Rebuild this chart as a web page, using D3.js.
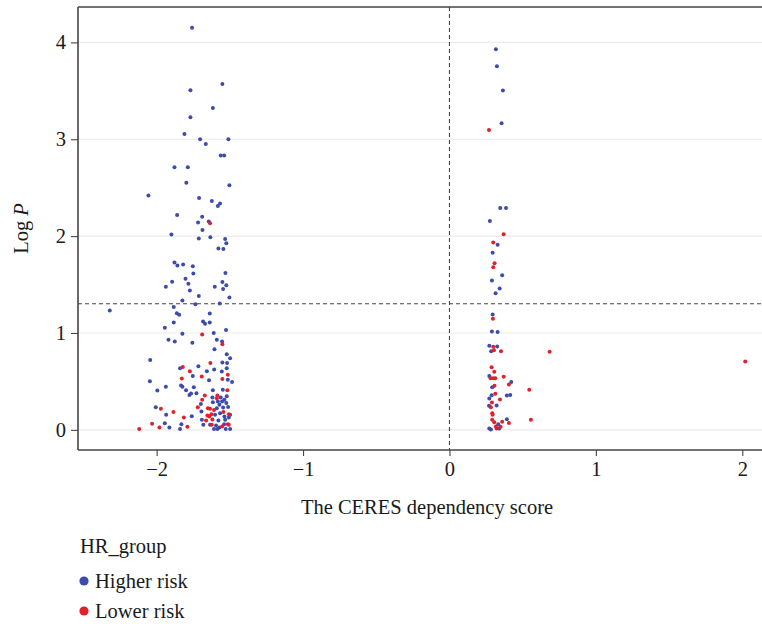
<!DOCTYPE html>
<html>
<head>
<meta charset="utf-8">
<script src="https://cdn.jsdelivr.net/npm/d3@7"></script>
<style>
  body { margin: 0; background: #fff; }
  svg text { font-family: "Liberation Serif", "DejaVu Serif", serif; fill: #1a1a1a; }
</style>
</head>
<body>
<div id="chart"></div>
<script>
// group names and colours
var groups = ["Higher risk", "Lower risk"];
var groupColors = ["#3D4BAE", "#E3202A"];

// higher risk points: [CERES score, log P]
var higherRisk = [
  [-1.758,4.152],[-1.551,3.571],[-1.769,3.506],[-1.616,3.323],[-1.769,3.227],[-1.810,3.055],
  [-1.703,3.0],[-1.510,3.0],[-1.664,2.951],[-1.562,2.831],[-1.539,2.831],
  [-1.878,2.711],[-1.787,2.711],[-1.797,2.552],[-1.503,2.525],[-2.056,2.418],[-1.710,2.394],
  [-1.623,2.363],[-1.567,2.336],[-1.582,2.312],[-1.860,2.219],[-1.689,2.201],[-1.717,2.140],
  [-1.644,2.150],[-1.687,2.064],[-1.899,2.016],[-1.712,1.974],[-1.633,1.989],[-1.532,1.971],
  [-1.524,1.927],[-1.578,1.871],[-1.544,1.868],[-1.878,1.727],[-1.858,1.696],[-1.819,1.706],
  [-1.753,1.689],[-1.530,1.620],[-1.749,1.613],
  [-1.803,1.561],[-1.894,1.530],[-1.783,1.507],[-1.937,1.476],[-1.551,1.527],[-1.603,1.476],
  [-1.524,1.493],[-1.546,1.455],[-1.773,1.438],[-1.712,1.383],[-1.503,1.365],[-1.824,1.334],
  [-1.883,1.269],[-1.735,1.297],[-1.569,1.303],
  [-2.320,1.231],[-1.862,1.204],[-1.846,1.187],[-1.637,1.200],[-1.883,1.107],[-1.683,1.118],
  [-1.669,1.094],[-1.637,1.107],[-1.944,1.053],[-1.526,1.032],[-1.824,0.991],[-1.610,1.001],
  [-1.919,0.929],[-1.876,0.912],[-1.756,0.898],[-1.589,0.929],[-1.553,0.912],[-1.605,0.833],
  [-1.521,0.781],[-1.498,0.740],[-2.044,0.722],
  [-2.046,0.502],[-1.995,0.406],[-1.937,0.444],[-1.840,0.636],[-1.715,0.657],[-1.753,0.557],
  [-1.657,0.605],[-1.607,0.622],[-1.551,0.695],[-1.555,0.602],[-1.642,0.513],[-1.514,0.516],
  [-1.485,0.495],[-1.833,0.457],[-1.824,0.444],[-1.799,0.410],[-1.746,0.441],[-1.776,0.361],
  [-1.765,0.375],[-1.728,0.379],[-1.519,0.691],[-1.521,0.636],
  [-2.006,0.234],[-1.935,0.155],[-1.760,0.141],[-1.694,0.189],[-1.698,0.268],[-1.619,0.333],
  [-1.616,0.410],[-1.548,0.413],[-1.944,0.069],[-1.913,0.024],[-1.831,0.059],[-1.840,0.010],
  [-1.521,0.348],[-1.537,0.310],[-1.553,0.292],[-1.524,0.276],[-1.512,0.237],[-1.546,0.230],
  [-1.571,0.258],[-1.589,0.224],[-1.567,0.172],[-1.537,0.137],[-1.507,0.127],[-1.498,0.155],
  [-1.616,0.286],[-1.691,0.103],[-1.681,0.052],[-1.594,0.044],[-1.608,0.010],[-1.585,0.010],
  [-1.539,0.059],[-1.528,0.010],[-1.498,0.010],[-1.571,0.024],[-1.635,0.052],[-1.578,0.096],
  [-1.532,0.103],[-1.601,0.155],[-1.582,0.292],[-1.562,0.333],
  [0.317,3.929],[0.324,3.753],[0.365,3.502],[0.356,3.165],[0.347,2.291],[0.386,2.291],
  [0.276,2.157],[0.329,1.912],[0.295,1.827],[0.360,1.596],[0.290,1.541],[0.343,1.458],
  [0.315,1.411],[0.295,1.190],[0.290,1.015],[0.329,1.011],[0.272,0.867],[0.326,0.860],
  [0.285,0.812],[0.272,0.557],[0.422,0.495],[0.292,0.441],[0.288,0.358],[0.392,0.354],
  [0.415,0.361],[0.272,0.323],[0.270,0.248],[0.322,0.251],[0.392,0.110],[0.333,0.059],
  [0.340,0.013],[0.272,0.013],[0.283,0.003]
];

// lower risk points: [CERES score, log P]
var lowerRisk = [
  [-1.635,2.133],[-1.689,0.984],[-1.551,0.884],
  [-1.821,0.650],[-1.773,0.605],[-1.828,0.529],[-1.692,0.550],[-1.633,0.691],[-1.514,0.568],
  [-1.551,0.526],
  [-1.971,0.217],[-1.885,0.183],[-1.814,0.127],[-1.719,0.234],[-1.689,0.310],[-1.671,0.354],
  [-1.650,0.224],[-1.585,0.354],[-1.517,0.410],[-2.031,0.062],[-1.981,0.024],[-1.790,0.031],
  [-2.119,0.010],[-1.507,0.052],
  [-1.635,0.217],[-1.626,0.162],[-1.640,0.137],[-1.619,0.106],[-1.653,0.148],[-1.662,0.096],
  [-1.553,0.034],[-1.514,0.059],[-1.623,0.052],[-1.589,0.327],[-1.608,0.206],[-1.544,0.183],
  [-1.507,0.162],
  [0.270,3.096],[0.370,2.020],[0.299,1.933],[0.308,1.720],[0.299,1.679],[0.297,1.146],
  [0.299,0.857],[0.304,0.822],[0.352,0.812],[0.684,0.805],[2.020,0.705],[0.288,0.647],
  [0.306,0.599],[0.281,0.533],[0.299,0.533],[0.313,0.533],[0.370,0.547],[0.406,0.468],
  [0.308,0.454],[0.545,0.413],[0.313,0.372],[0.345,0.313],[0.290,0.282],[0.283,0.234],
  [0.292,0.172],[0.295,0.155],[0.292,0.103],[0.406,0.072],[0.556,0.103],[0.306,0.079],
  [0.349,0.031],[0.360,0.083],[0.317,0.034],[0.322,0.013]
];

// axis ticks and reference lines
var xTicks = [-2, -1, 0, 1, 2];
var yTicks = [0, 1, 2, 3, 4];
var xCut = 0;
var yCut = -Math.log10(0.05);

var width = 762, height = 624;
var margin = {top: 7, right: -15, bottom: 174, left: 78};
var w = width - margin.left - margin.right;
var h = height - margin.top - margin.bottom;
var fs = "20.5px";

var svg = d3.select("#chart")
  .append("svg")
  .attr("width", width)
  .attr("height", height);

var g = svg.append("g")
  .attr("transform", "translate(" + margin.left + "," + margin.top + ")");

var x = d3.scaleLinear().domain([-2.537, 2.237]).range([0, w]);
var y = d3.scaleLinear().domain([-0.208, 4.365]).range([h, 0]);

// horizontal grid
g.selectAll(".grid")
  .data(yTicks)
  .enter()
  .append("line")
  .attr("x1", 0).attr("x2", w)
  .attr("y1", function(d) { return y(d); })
  .attr("y2", function(d) { return y(d); })
  .attr("stroke", "#ebebeb")
  .attr("stroke-width", 1.1);

// dashed cut lines
g.append("line")
  .attr("x1", x(xCut)).attr("x2", x(xCut))
  .attr("y1", 0).attr("y2", h)
  .attr("stroke", "#444").attr("stroke-width", 1.1)
  .attr("stroke-dasharray", "4,3");

g.append("line")
  .attr("x1", 0).attr("x2", w)
  .attr("y1", y(yCut)).attr("y2", y(yCut))
  .attr("stroke", "#444").attr("stroke-width", 1.1)
  .attr("stroke-dasharray", "4,3");

// points
var allPoints = higherRisk.map(function(d) { return {x: d[0], y: d[1], grp: 0}; })
  .concat(lowerRisk.map(function(d) { return {x: d[0], y: d[1], grp: 1}; }));

g.selectAll(".pt")
  .data(allPoints)
  .enter()
  .append("circle")
  .attr("cx", function(d) { return x(d.x); })
  .attr("cy", function(d) { return y(d.y); })
  .attr("r", 2)
  .attr("fill", function(d) { return groupColors[d.grp]; });

// axes
var xAxis = d3.axisBottom(x).tickValues(xTicks).tickSize(6).tickPadding(5)
  .tickFormat(function(d) { return d < 0 ? "\u2212" + Math.abs(d) : d; });
var yAxis = d3.axisLeft(y).tickValues(yTicks).tickSize(7).tickPadding(5)
  .tickFormat(d3.format("d"));

var gx = g.append("g").attr("transform", "translate(0," + h + ")").call(xAxis);
var gy = g.append("g").call(yAxis);

[gx, gy].forEach(function(a) {
  a.select(".domain").remove();
  a.selectAll("line").attr("stroke", "#444").attr("stroke-width", 1.1);
  a.selectAll("text").style("font-size", fs).attr("fill", "#1a1a1a")
    .style("font-family", "'Liberation Serif', serif");
});

// axis lines + top border
g.append("line").attr("x1", 0).attr("x2", 0).attr("y1", 0).attr("y2", h)
  .attr("stroke", "#444").attr("stroke-width", 1.6);
g.append("line").attr("x1", 0).attr("x2", w).attr("y1", h).attr("y2", h)
  .attr("stroke", "#444").attr("stroke-width", 1.6);
g.append("line").attr("x1", 0).attr("x2", w).attr("y1", 0).attr("y2", 0)
  .attr("stroke", "#444").attr("stroke-width", 1.6);

// axis titles
svg.append("text")
  .attr("x", 427)
  .attr("y", 514)
  .attr("text-anchor", "middle")
  .style("font-size", fs)
  .text("The CERES dependency score");

var yl = svg.append("text")
  .attr("transform", "translate(28," + (margin.top + h / 2) + ") rotate(-90)")
  .attr("text-anchor", "middle")
  .style("font-size", fs);
yl.append("tspan").text("Log ");
yl.append("tspan").style("font-style", "italic").text("P");

// legend
svg.append("text")
  .attr("x", 80).attr("y", 553)
  .style("font-size", fs)
  .text("HR_group");

var leg = svg.selectAll(".leg")
  .data(groups)
  .enter()
  .append("g")
  .attr("transform", function(d, i) { return "translate(84," + (581 + i * 30) + ")"; });

leg.append("circle").attr("r", 4.6)
  .attr("fill", function(d, i) { return groupColors[i]; });
leg.append("text").attr("x", 11).attr("y", 6.5)
  .style("font-size", fs)
  .text(function(d) { return d; });
</script>
</body>
</html>
